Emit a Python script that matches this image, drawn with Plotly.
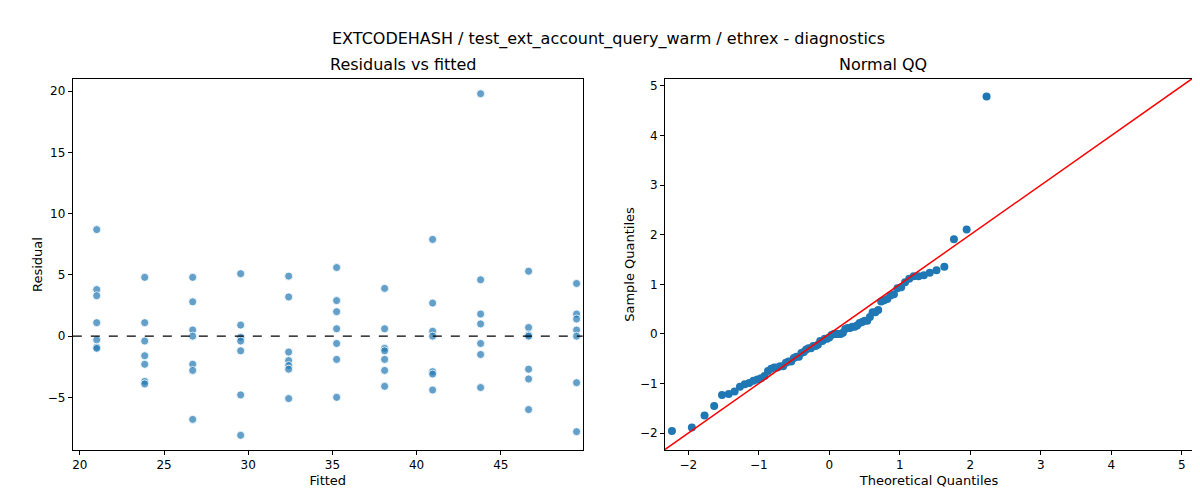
import numpy as np
import plotly.graph_objects as go
from statistics import NormalDist

fitted_levels = [21.0, 23.85, 26.7, 29.55, 32.4, 35.25, 38.1, 40.95, 43.8, 46.65, 49.5]
residual_groups = [
    [8.7, 3.8, 3.3, 1.1, -0.3, -0.9, -1.0],
    [4.8, 1.1, -0.4, -1.6, -2.3, -3.7, -3.9],
    [4.8, 2.8, 0.5, 0.0, -2.3, -2.8, -6.8],
    [5.1, 0.9, -0.1, -0.4, -1.2, -4.8, -8.1],
    [4.9, 3.2, -1.3, -2.0, -2.4, -2.7, -5.1],
    [5.6, 2.9, 2.0, 0.6, -0.6, -1.9, -5.0],
    [3.9, 0.6, -1.0, -1.2, -1.9, -2.8, -4.1],
    [7.9, 2.7, 0.4, 0.0, -2.9, -3.1, -4.4],
    [19.8, 4.6, 1.8, 1.0, -0.6, -1.5, -4.2],
    [5.3, 0.7, 0.1, 0.0, -2.7, -3.5, -6.0],
    [4.3, 1.8, 1.4, 0.5, 0.0, -3.8, -7.8],
]

fx, ry = [], []
for f, g in zip(fitted_levels, residual_groups):
    fx += [f] * len(g)
    ry += g
ry = np.array(ry)

# QQ: standardized residuals vs normal quantiles (positions i/(n+1))
n = len(ry)
sample = np.sort((ry - ry.mean()) / ry.std(ddof=1))
theo = np.array([NormalDist().inv_cdf(i / (n + 1)) for i in range(1, n + 1)])

fig = go.Figure()
fig.add_trace(go.Scatter(x=fx, y=ry, mode="markers", xaxis="x", yaxis="y",
    marker=dict(size=8, color="rgba(31,119,180,0.7)", line=dict(color="white", width=0.8)),
    showlegend=False))
fig.add_trace(go.Scatter(x=[19.58, 49.87], y=[0, 0], mode="lines", xaxis="x", yaxis="y",
    line=dict(color="black", dash="dash", width=1.2), showlegend=False))
fig.add_trace(go.Scatter(x=theo, y=sample, mode="markers", xaxis="x2", yaxis="y2",
    marker=dict(size=8, color="#1f77b4"), showlegend=False))
fig.add_trace(go.Scatter(x=[-2.33, 5.16], y=[-2.33, 5.16], mode="lines", xaxis="x2", yaxis="y2",
    line=dict(color="red", width=1.5), showlegend=False))

ax = dict(showgrid=False, zeroline=False, showline=True, linecolor="black", mirror=True,
          ticks="outside", ticklen=4, tickcolor="black", tickfont=dict(size=12), automargin=False)
fig.update_layout(
    width=1200, height=500, margin=dict(l=0, r=0, t=0, b=0),
    plot_bgcolor="white", paper_bgcolor="white",
    font=dict(family="DejaVu Sans", color="black", size=12),
    xaxis=dict(ax, domain=[0.054, 0.479], range=[19.58, 49.87], dtick=5,
               title=dict(text="Fitted", standoff=4, font=dict(size=13)), anchor="y"),
    yaxis=dict(ax, domain=[0.116, 0.858], range=[-9.3, 21.0], dtick=5,
               title=dict(text="Residual", standoff=2, font=dict(size=13)), anchor="x"),
    xaxis2=dict(ax, domain=[0.5475, 0.9875], range=[-2.33, 5.16], dtick=1,
                title=dict(text="Theoretical Quantiles", standoff=4, font=dict(size=13)), anchor="y2"),
    yaxis2=dict(ax, domain=[0.116, 0.858], range=[-2.34, 5.14], dtick=1,
                title=dict(text="Sample Quantiles", standoff=2, font=dict(size=13)), anchor="x2"),
    annotations=[
        dict(text="EXTCODEHASH / test_ext_account_query_warm / ethrex - diagnostics", x=0.5, y=0.963,
             xref="paper", yref="paper", showarrow=False, font=dict(size=16)),
        dict(text="Residuals vs fitted", x=0.2665, y=0.864, xref="paper", yref="paper",
             showarrow=False, yanchor="bottom", font=dict(size=16)),
        dict(text="Normal QQ", x=0.7675, y=0.864, xref="paper", yref="paper",
             showarrow=False, yanchor="bottom", font=dict(size=16)),
    ],
)
fig.write_html("out.html")
